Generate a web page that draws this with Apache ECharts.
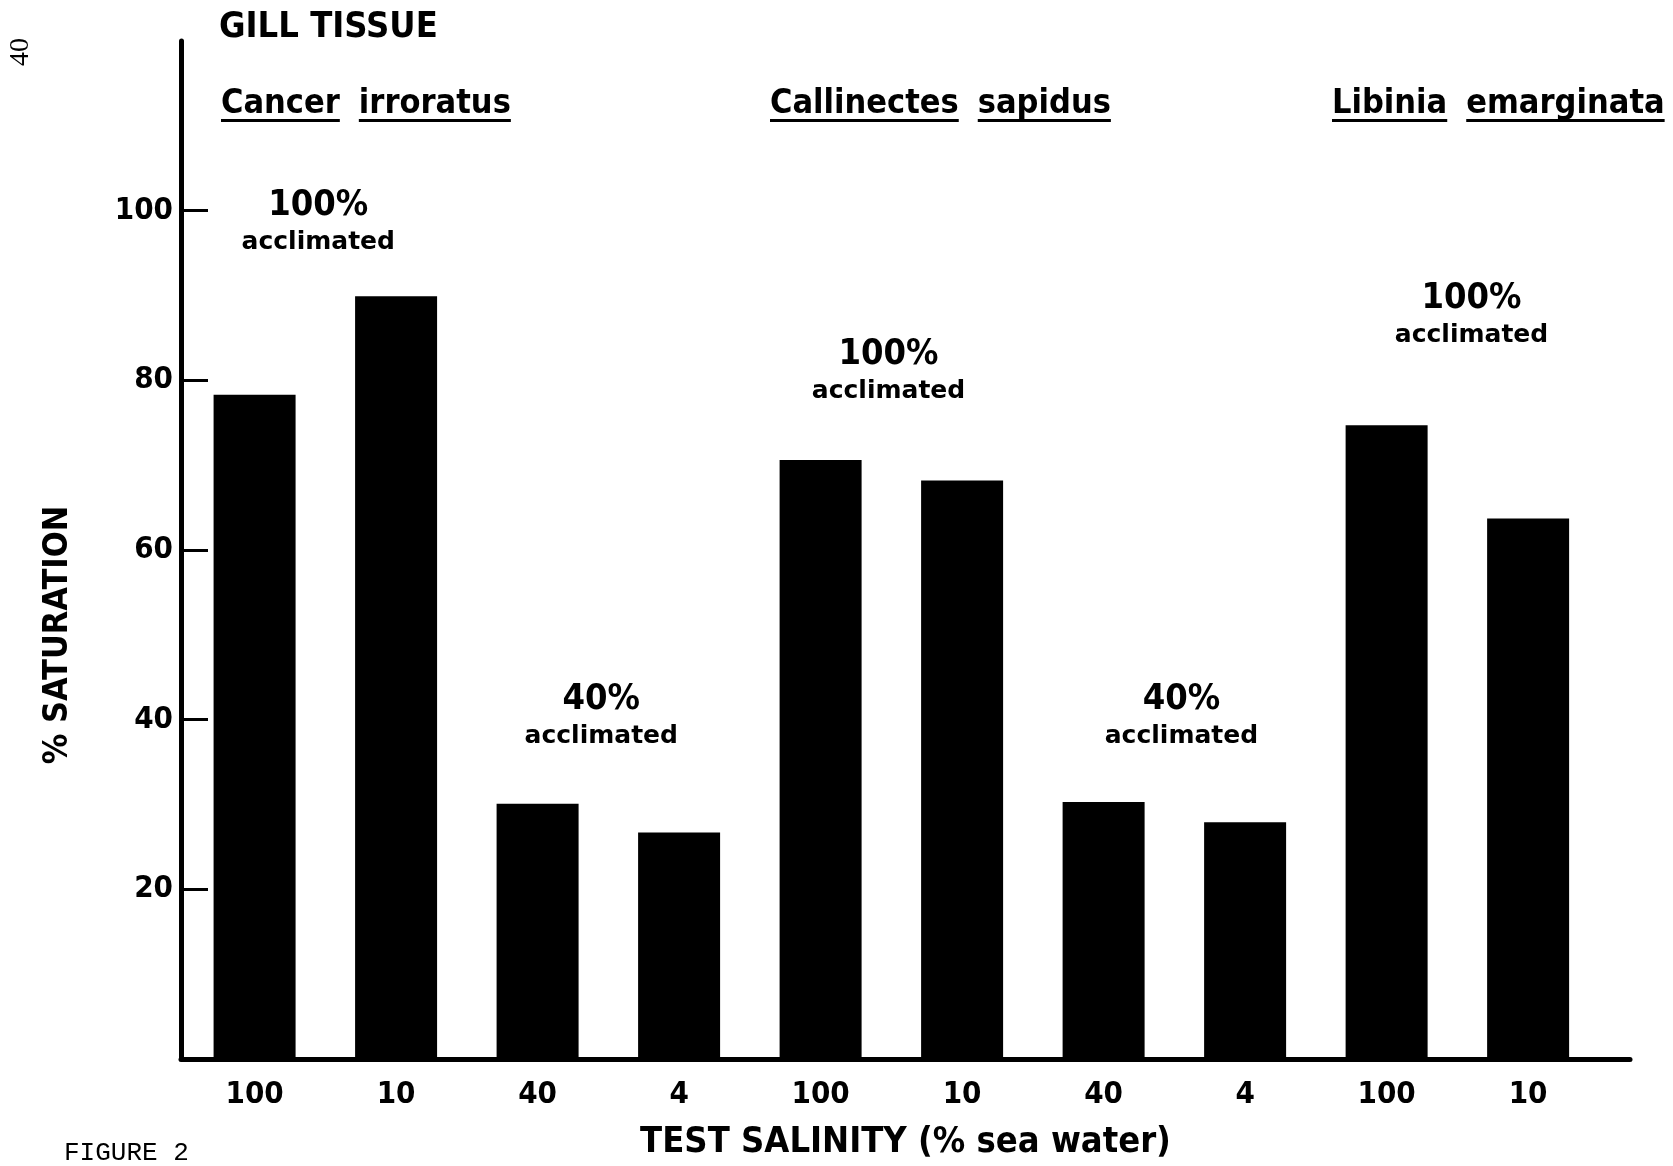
<!DOCTYPE html>
<html>
<head>
<meta charset="utf-8">
<script src="https://cdn.jsdelivr.net/npm/echarts@6/dist/echarts.min.js"></script>
<style>
html,body{margin:0;padding:0;background:#fff;}
#chart{width:1673px;height:1166px;}
</style>
</head>
<body>
<div id="chart"></div>
<script>
// ---- data ----
const salinityLabels = ['100', '10', '40', '4', '100', '10', '40', '4', '100', '10'];
const saturation = [78.3, 89.9, 30.1, 26.7, 70.6, 68.2, 30.3, 27.9, 74.7, 63.7];
const yTickValues = [20, 40, 60, 80, 100];
const groupCenters = [0.45, 2.45, 4.48, 6.55, 8.6];
const groupAcclimation = ['100%', '40%', '100%', '40%', '100%'];
const groupLabelLevel = [98.6, 40.4, 81.0, 40.4, 87.6];
const speciesNames = [['Cancer', 'irroratus'], ['Callinectes', 'sapidus'], ['Libinia', 'emarginata']];
const tissueTitle = 'GILL TISSUE';
const xTitle = 'TEST SALINITY (% sea water)';
const yTitle = '% SATURATION';
const figureLabel = 'FIGURE 2';
const pageNumber = '40';

const NARROW = "'DejaVu Sans Condensed', 'Liberation Sans Narrow', sans-serif";
const chart = echarts.init(document.getElementById('chart'));

const measureCtx = document.createElement('canvas').getContext('2d');
function textWidth(str, font) { measureCtx.font = font; return measureCtx.measureText(str).width; }

// species headers with per-word underline
const speciesX = [221, 770, 1332];
const speciesY = 87;
const speciesFontSize = 34;
const speciesGraphics = [];
speciesNames.forEach((words, i) => {
  let x = speciesX[i];
  words.forEach((w) => {
    const font = `bold ${speciesFontSize}px ${NARROW}`;
    const wdt = textWidth(w, font);
    speciesGraphics.push({
      type: 'text', left: x, top: speciesY,
      style: { text: w, font: font, fill: '#000' }
    });
    speciesGraphics.push({
      type: 'rect', shape: { x: x, y: speciesY + 32, width: wdt, height: 3 },
      style: { fill: '#000' }
    });
    x += wdt + 19;
  });
});

const annData = groupCenters.map((c, i) => ({ value: [c, groupLabelLevel[i]], pct: groupAcclimation[i] }));

const option = {
  backgroundColor: '#fff',
  animation: false,
  grid: { left: 181, right: 43, top: 41, bottom: 101, containLabel: false },
  xAxis: {
    type: 'value', min: -0.52, max: 9.72,
    splitLine: { show: false },
    axisLine: { show: true, onZero: false, lineStyle: { color: '#000', width: 5 } },
    axisTick: { show: false },
    axisLabel: {
      customValues: salinityLabels.map((_, i) => i),
      formatter: v => salinityLabels[Math.round(v)],
      color: '#000', fontFamily: NARROW, fontWeight: 'bold', fontSize: 31, margin: 20
    },
    name: xTitle, nameLocation: 'middle', nameGap: 66,
    nameTextStyle: { color: '#000', fontFamily: NARROW, fontWeight: 'bold', fontSize: 36 }
  },
  yAxis: {
    type: 'value', min: 0, max: 120,
    splitLine: { show: false },
    axisLine: { show: true, onZero: false, lineStyle: { color: '#000', width: 5 } },
    axisTick: { show: true, inside: true, length: 27, customValues: yTickValues, lineStyle: { color: '#000', width: 3 } },
    axisLabel: {
      customValues: yTickValues,
      color: '#000', fontFamily: NARROW, fontWeight: 'bold', fontSize: 31, margin: 8
    }
  },
  series: [
    {
      type: 'bar',
      data: saturation.map((v, i) => [i, v]),
      barWidth: 82,
      itemStyle: { color: '#000' }
    },
    {
      type: 'scatter',
      data: annData,
      symbolSize: 0,
      itemStyle: { opacity: 1, color: '#000' },
      label: {
        show: true, position: 'inside', color: '#000',
        formatter: p => `{p|${p.data.pct}}\n{a|acclimated}`,
        rich: {
          p: { fontFamily: NARROW, fontWeight: 'bold', fontSize: 36, color: '#000', lineHeight: 40, align: 'center' },
          a: { fontFamily: "'DejaVu Sans', sans-serif", fontWeight: 'bold', fontSize: 25, color: '#000', lineHeight: 34, align: 'center' }
        }
      }
    }
  ],
  graphic: [
    { type: 'text', left: 219, top: 10, style: { text: tissueTitle, font: `bold 36px ${NARROW}`, fill: '#000' } },
    ...speciesGraphics,
    { type: 'text', x: 58, y: 635, rotation: Math.PI / 2,
      style: { text: yTitle, font: `bold 34px ${NARROW}`, fill: '#000', align: 'center', verticalAlign: 'middle' } },
    { type: 'text', left: 64, top: 1140, style: { text: figureLabel, font: `26px 'Liberation Mono', monospace`, fill: '#000' } },
    { type: 'text', x: 21, y: 52, rotation: Math.PI / 2,
      style: { text: pageNumber, font: `28px 'Liberation Serif', serif`, fill: '#000', align: 'center', verticalAlign: 'middle' } }
  ]
};
chart.setOption(option);
</script>
</body>
</html>
